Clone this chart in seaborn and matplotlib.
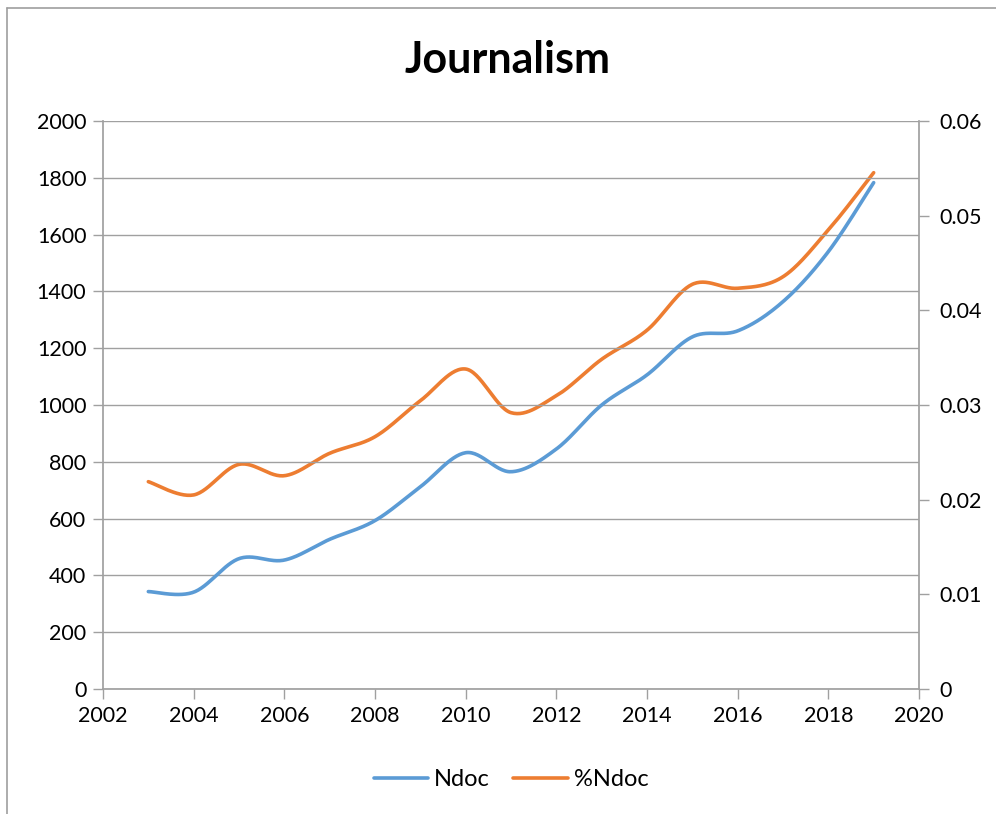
import numpy as np
import pandas as pd
import matplotlib
matplotlib.use("Agg")
import matplotlib.pyplot as plt
import seaborn as sns
from matplotlib.lines import Line2D

years = [2003, 2004, 2005, 2006, 2007, 2008, 2009, 2010, 2011,
         2012, 2013, 2014, 2015, 2016, 2017, 2018, 2019]
ndoc = [343, 341, 459, 454, 527, 593, 712, 832, 765,
        845, 1000, 1106, 1240, 1261, 1364, 1540, 1783]
pct_ndoc = [0.0219, 0.0205, 0.02373, 0.02253, 0.0249, 0.02665, 0.03045, 0.0338, 0.02919,
            0.03098, 0.03483, 0.0379, 0.04275, 0.04233, 0.04355, 0.04849, 0.05454]
left_ticks = [0, 200, 400, 600, 800, 1000, 1200, 1400, 1600, 1800, 2000]
right_ticks = [0, 0.01, 0.02, 0.03, 0.04, 0.05, 0.06]
right_labels = ["0", "0.01", "0.02", "0.03", "0.04", "0.05", "0.06"]
x_ticks = [2002, 2004, 2006, 2008, 2010, 2012, 2014, 2016, 2018, 2020]

BLUE = "#5B9BD5"
ORANGE = "#ED7D31"
GRID = "#A0A0A0"


def smooth(x, y, n=30):
    """Excel-like smoothed line (Catmull-Rom Bezier through the points)."""
    x = np.asarray(x, float)
    y = np.asarray(y, float)
    P = np.column_stack([x, y])
    Pe = np.vstack([P[0], P, P[-1]])
    out = []
    for i in range(len(P) - 1):
        p0, p1, p2, p3 = Pe[i], Pe[i + 1], Pe[i + 2], Pe[i + 3]
        c1 = p1 + (p2 - p0) / 6.0
        c2 = p2 - (p3 - p1) / 6.0
        t = np.linspace(0, 1, n, endpoint=(i == len(P) - 2))[:, None]
        seg = ((1 - t) ** 3) * p1 + 3 * ((1 - t) ** 2) * t * c1 + 3 * (1 - t) * t * t * c2 + t ** 3 * p2
        out.append(seg)
    s = np.vstack(out)
    return s[:, 0], s[:, 1]


sns.set_theme(style="white")
plt.rcParams["font.family"] = ["Lato", "DejaVu Sans"]

fig = plt.figure(figsize=(9.96, 8.14), dpi=100)
ax = fig.add_axes([103 / 996, 1 - 689 / 814, (919 - 103) / 996, (689 - 121) / 814])
ax2 = ax.twinx()

bx, by = smooth(years, ndoc)
ox, oy = smooth(years, pct_ndoc)
df1 = pd.DataFrame({"year": bx, "val": by})
df2 = pd.DataFrame({"year": ox, "val": oy})

sns.lineplot(data=df1, x="year", y="val", ax=ax, color=BLUE, linewidth=2.6,
             sort=False, estimator=None)
sns.lineplot(data=df2, x="year", y="val", ax=ax2, color=ORANGE, linewidth=2.6,
             sort=False, estimator=None)

ax.set_xlim(2002, 2020)
ax.set_ylim(0, 2000)
ax2.set_ylim(0, 0.06)
ax.set_xticks(x_ticks)
ax.set_xticklabels([str(v) for v in x_ticks])
ax.set_yticks(left_ticks)
ax.set_yticklabels([str(v) for v in left_ticks])
ax2.set_yticks(right_ticks)
ax2.set_yticklabels(right_labels)
ax.set_xlabel("")
ax.set_ylabel("")
ax2.set_ylabel("")

for a in (ax, ax2):
    for s in a.spines.values():
        s.set_visible(False)
ax.spines["left"].set_visible(True)
ax.spines["left"].set_color(GRID)
ax.spines["bottom"].set_visible(True)
ax.spines["bottom"].set_color(GRID)
ax2.spines["right"].set_visible(True)
ax2.spines["right"].set_color(GRID)

ax.grid(axis="y", color=GRID, linewidth=1.0)
ax.set_axisbelow(True)
ax.tick_params(axis="both", which="both", length=7, width=1, color=GRID,
               direction="out", labelsize=15.5, labelcolor="black", pad=5)
ax.tick_params(axis="y", left=True)
ax.tick_params(axis="x", bottom=True)
ax2.tick_params(axis="y", right=True, length=7, width=1, color=GRID,
                direction="out", labelsize=15.5, labelcolor="black", pad=8)
ax.set_zorder(ax2.get_zorder() + 1)
ax.patch.set_visible(False)

fig.text(0.51, 1 - 60 / 814, "Journalism", ha="center", va="center",
         fontsize=31, fontweight="bold", color="black")

handles = [Line2D([0], [0], color=BLUE, lw=2.6), Line2D([0], [0], color=ORANGE, lw=2.6)]
fig.legend(handles, ["Ndoc", "%Ndoc"], loc="center", bbox_to_anchor=(0.513, 1 - 780 / 814),
           ncol=2, frameon=False, fontsize=17, handlelength=2.3, handletextpad=0.25,
           columnspacing=1.0, labelcolor="black")

# chart frame (left and top edges visible)
fig.add_artist(Line2D([7 / 996, 7 / 996], [0, 1 - 8 / 814], color="#9E9E9E", lw=1.2,
                      transform=fig.transFigure))
fig.add_artist(Line2D([7 / 996, 1], [1 - 8 / 814, 1 - 8 / 814], color="#9E9E9E", lw=1.2,
                      transform=fig.transFigure))

fig.savefig("out.png", dpi=100, facecolor="white")
